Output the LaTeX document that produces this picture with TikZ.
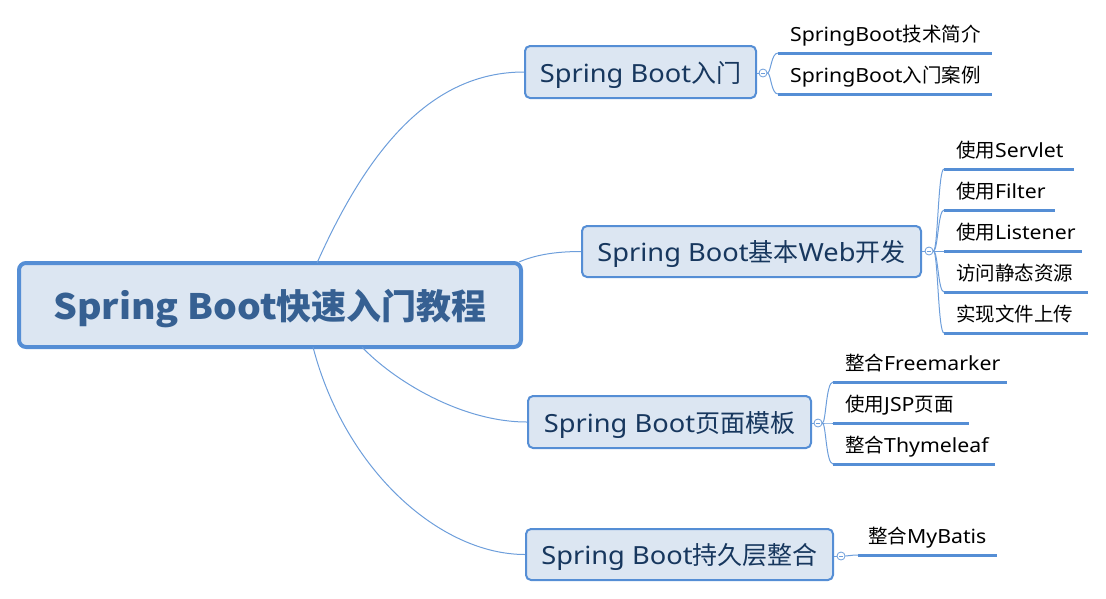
\documentclass[tikz,border=0pt]{standalone}
\usepackage{fontspec}
\setmainfont{Noto Sans}[FakeStretch=1.09]
\newfontfamily\cjk{Noto Sans CJK SC}
\newfontfamily\cjkwide{Noto Sans CJK SC}[FakeStretch=1.07]
\usetikzlibrary{calc}
\definecolor{boxfill}{HTML}{DCE6F2}
\definecolor{boxline}{HTML}{558ED5}
\definecolor{conn}{HTML}{6D9EDB}
\definecolor{roottext}{HTML}{366092}
\definecolor{branchtext}{HTML}{17375E}
\newcommand\rootfnt{\fontsize{35}{42}\selectfont\bfseries}
\newcommand\brfnt{\fontsize{25}{30}\selectfont}
\newcommand\lffnt{\fontsize{19.5}{23}\selectfont}
\newcommand\lpad{\hspace*{12pt}}
\begin{document}
\begin{tikzpicture}[x=1pt,y=-1pt,
  rootbox/.style={draw=boxline, line width=4pt, fill=boxfill, rounded corners=7pt,
    text=roottext, font=\rootfnt, inner sep=0pt, text height=30pt, text depth=2pt},
  branchbox/.style={draw=boxline, line width=2pt, fill=boxfill, rounded corners=5pt,
    text=branchtext, font=\brfnt, inner sep=0pt, text height=22pt, text depth=2pt},
  leaf/.style={anchor=south west, inner sep=0pt, text height=15pt, text depth=11pt,
    align=left, font=\lffnt, text=black},
  under/.style={draw=boxline, line width=3pt},
  link/.style={draw=conn, line width=1pt},
  tog/.style={circle, draw=conn, line width=0.8pt, fill=white, minimum size=8pt, inner sep=0pt,
    path picture={\draw[conn, line width=0.8pt]
      ($(path picture bounding box.west)+(2pt,0)$) -- ($(path picture bounding box.east)+(-2pt,0)$);}}
]
\useasboundingbox (0,0) rectangle (1106,598);

% root
\node[rootbox, minimum width=502pt, minimum height=84pt] (root) at (270,305)
  {{\cjkwide Spring Boot}{\cjk 快速入门教程}};

% branches
\node[branchbox, minimum width=231pt, minimum height=52pt] (b1) at (640.5,72) {Spring Boot{\cjk 入门}};
\node[branchbox, minimum width=339pt, minimum height=51pt] (b2) at (751.5,251.5) {Spring Boot{\cjk 基本}Web{\cjk 开发}};
\node[branchbox, minimum width=283pt, minimum height=52pt] (b3) at (669.5,422) {Spring Boot{\cjk 页面模板}};
\node[branchbox, minimum width=307pt, minimum height=51pt] (b4) at (679.5,554.5) {Spring Boot{\cjk 持久层整合}};

% start points on root border
\coordinate (r1) at (317,263);
\coordinate (r2) at (519,262);
\coordinate (r3) at (362,347);
\coordinate (r4) at (313,347);

\draw[link] (r1) .. controls (367,151) and (430,72) .. (b1.west);
\draw[link] (r2) .. controls (535,255) and (555,251.5) .. (b2.west);
\draw[link] (r3) .. controls (392,379) and (460,422) .. (b3.west);
\draw[link] (r4) .. controls (345,470) and (440,554.5) .. (b4.west);

% toggles
\node[tog] (c1) at (763,73) {};
\node[tog] (c2) at (929,251) {};
\node[tog] (c3) at (818,423) {};
\node[tog] (c4) at (841,556) {};
\draw[link] (b1.east |- c1) -- (c1.west);
\draw[link] (b2.east |- c2) -- (c2.west);
\draw[link] (b3.east |- c3) -- (c3.west);
\draw[link] (b4.east |- c4) -- (c4.west);

% leaves of b1
\node[leaf, text width=214pt] (l11) at (778,53) {\lpad SpringBoot{\cjk 技术简介}};
\node[leaf, text width=214pt] (l12) at (778,94) {\lpad SpringBoot{\cjk 入门案例}};
% leaves of b2
\node[leaf, text width=130pt] (l21) at (944,169) {\lpad{\cjk 使用}Servlet};
\node[leaf, text width=111pt] (l22) at (944,210) {\lpad{\cjk 使用}Filter};
\node[leaf, text width=138pt] (l23) at (944,251) {\lpad{\cjk 使用}Listener};
\node[leaf, text width=144pt] (l24) at (944,292) {\lpad{\cjk 访问静态资源}};
\node[leaf, text width=144pt] (l25) at (944,333) {\lpad{\cjk 实现文件上传}};
% leaves of b3
\node[leaf, text width=174pt] (l31) at (833,382) {\lpad{\cjk 整合}Freemarker};
\node[leaf, text width=136pt] (l32) at (833,423) {\lpad{\cjk 使用}JSP{\cjk 页面}};
\node[leaf, text width=162pt] (l33) at (833,464) {\lpad{\cjk 整合}Thymeleaf};
% leaf of b4
\node[leaf, text width=139pt] (l41) at (858,555) {\hspace*{10pt}{\cjk 整合}MyBatis};

% underlines
\foreach \l in {l11,l12,l21,l22,l23,l24,l25,l31,l32,l33,l41}
  \draw[under] (\l.south west) -- (\l.south east);

% brackets from toggles to leaves
\foreach \c/\l/\m in {c1/l11/771, c1/l12/771,
                      c2/l21/938, c2/l22/938, c2/l23/938, c2/l24/938, c2/l25/938,
                      c3/l31/826, c3/l32/826, c3/l33/826,
                      c4/l41/850}
  \draw[link] (\c.east) .. controls (\m,0 |- \c.east) and (\m,0 |- \l.south west) .. (\l.south west);
\end{tikzpicture}
\end{document}
